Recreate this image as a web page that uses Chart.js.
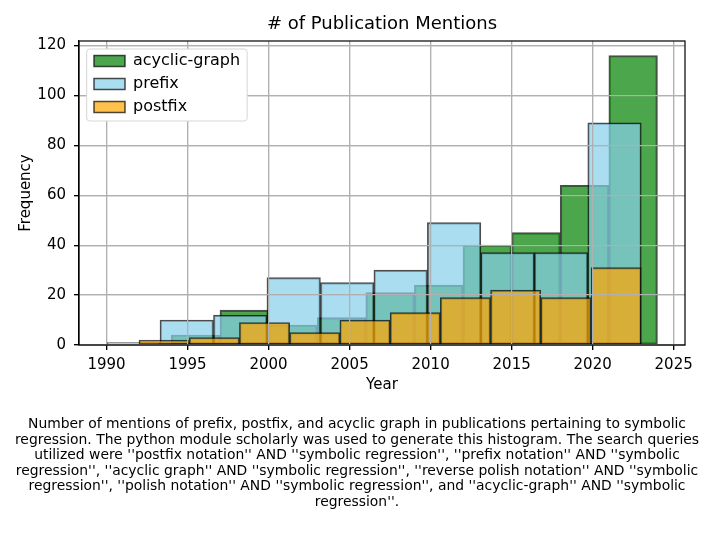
<!DOCTYPE html>
<html>
<head>
<meta charset="utf-8">
<script src="https://cdn.jsdelivr.net/npm/chart.js@4.4.1/dist/chart.umd.min.js"></script>
<style>
  html, body { margin: 0; padding: 0; background: #fff; }
  #wrap { position: relative; width: 714px; height: 536px; }
  #caption {
    position: absolute; left: 0; top: 416px; width: 714px;
    text-align: center; font-family: 'DejaVu Sans'; font-size: 13.9px;
    line-height: 15.6px; color: #000; white-space: nowrap;
  }
</style>
</head>
<body>
<div id="wrap">
  <canvas id="chart" width="714" height="536"></canvas>
  <div id="caption">
    <div>Number of mentions of prefix, postfix, and acyclic graph in publications pertaining to symbolic</div>
    <div>regression. The python module scholarly was used to generate this histogram. The search queries</div>
    <div>utilized were ''postfix notation'' AND ''symbolic regression'', ''prefix notation'' AND ''symbolic</div>
    <div>regression'', ''acyclic graph'' AND ''symbolic regression'', ''reverse polish notation'' AND ''symbolic</div>
    <div>regression'', ''polish notation'' AND ''symbolic regression'', and ''acyclic-graph'' AND ''symbolic</div>
    <div>regression''.</div>
  </div>
</div>
<script>
// Histogram bins (edges) and counts per series
const acyclicEdges = [1994, 1997, 2000, 2003, 2006, 2009, 2012, 2015, 2018, 2021, 2024];
const acyclicCounts = [4, 14, 8, 11, 21, 24, 40, 45, 64, 116];

const prefixEdges = [1990, 1993.3, 1996.6, 1999.9, 2003.2, 2006.5, 2009.8, 2013.1, 2016.4, 2019.7, 2023];
const prefixCounts = [1, 10, 12, 27, 25, 30, 49, 37, 37, 89];

const postfixEdges = [1992, 1995.1, 1998.2, 2001.3, 2004.4, 2007.5, 2010.6, 2013.7, 2016.8, 2019.9, 2023];
const postfixCounts = [2, 3, 9, 5, 10, 13, 19, 22, 19, 31];

const xTicks = [1990, 1995, 2000, 2005, 2010, 2015, 2020, 2025];
const yTicks = [0, 20, 40, 60, 80, 100, 120];

Chart.defaults.font.family = "'DejaVu Sans'";
Chart.defaults.color = '#000';

const binData = (edges, counts) => counts.map((c, i) => ({ x: (edges[i] + edges[i + 1]) / 2, y: c }));

// bar width in pixels = one bin on the x scale
const binWidth = (edges) => (ctx) => {
    const s = ctx.chart.scales.x;
    return s.getPixelForValue(edges[1]) - s.getPixelForValue(edges[0]);
};

const edge = 'rgba(0,0,0,0.7)';

const makeSeries = (label, edges, counts, color, order) => ({
    label: label,
    data: binData(edges, counts),
    backgroundColor: color,
    borderColor: edge,
    borderWidth: 1.5,
    borderSkipped: false,
    grouped: false,
    barThickness: binWidth(edges),
    order: order
});

const LEGEND_PAD = 7;
const LEGEND_FONT = 16;

// grid on top of bars, full frame, matplotlib-style legend box
const overlay = {
    id: 'overlay',
    afterLayout(chart) {
        const lg = chart.legend;
        const w = lg.width, h = lg.height;
        lg.left = chart.chartArea.left + 8;
        lg.top = chart.chartArea.top + 5;
        lg.right = lg.left + w;
        lg.bottom = lg.top + h;
    },
    afterDatasetsDraw(chart) {
        const { ctx, chartArea: a } = chart;
        chart.scales.x.drawGrid(a);
        chart.scales.y.drawGrid(a);

        ctx.save();
        ctx.strokeStyle = '#000';
        ctx.lineWidth = 1.2;
        ctx.strokeRect(a.left, a.top, a.right - a.left, a.bottom - a.top);

        const lg = chart.legend;
        ctx.font = LEGEND_FONT + "px 'DejaVu Sans'";
        const maxText = Math.max(...lg.legendItems.map(it => ctx.measureText(it.text).width));
        const boxX = lg.left + LEGEND_PAD;
        const textX = boxX + 31 + LEGEND_FONT / 2;
        const fx = boxX - 7.3;
        const fy = lg.top + 3;
        const fw = textX + maxText + 7 - fx;
        const fh = 72;
        ctx.beginPath();
        ctx.roundRect(fx, fy, fw, fh, 3);
        ctx.fillStyle = '#fff';
        ctx.fill();
        ctx.strokeStyle = '#d6d6d6';
        ctx.lineWidth = 1;
        ctx.stroke();
        ctx.restore();

        lg.draw();
    }
};

new Chart(document.getElementById('chart'), {
    type: 'bar',
    data: {
        datasets: [
            makeSeries('acyclic-graph', acyclicEdges, acyclicCounts, 'rgba(0,128,0,0.7)', 3),
            makeSeries('prefix', prefixEdges, prefixCounts, 'rgba(135,206,235,0.7)', 2),
            makeSeries('postfix', postfixEdges, postfixCounts, 'rgba(255,165,0,0.7)', 1)
        ]
    },
    options: {
        responsive: false,
        animation: false,
        devicePixelRatio: 1,
        layout: { padding: { left: 0, right: 29, top: 0, bottom: 140 } },
        plugins: {
            tooltip: { enabled: false },
            title: {
                display: true,
                text: '# of Publication Mentions',
                fullSize: false,
                font: { size: 18, weight: 'normal' },
                color: '#000',
                padding: { top: 14, bottom: 5.4 }
            },
            legend: {
                position: 'chartArea',
                align: 'start',
                labels: {
                    boxWidth: 31,
                    boxHeight: 11,
                    padding: LEGEND_PAD,
                    color: '#000',
                    font: { size: LEGEND_FONT },
                    sort: (a, b) => a.datasetIndex - b.datasetIndex
                }
            }
        },
        scales: {
            x: {
                type: 'linear',
                min: 1988.3,
                max: 2025.7,
                offset: false,
                afterBuildTicks: (scale) => { scale.ticks = xTicks.map(v => ({ value: v })); },
                afterFit: (scale) => { scale.height = 51; },
                ticks: {
                    callback: (v) => String(v),
                    font: { size: 15 },
                    color: '#000',
                    padding: 6,
                    maxRotation: 0
                },
                grid: { offset: false, color: '#b0b0b0', lineWidth: 1.2, tickLength: 5, tickColor: '#000', tickWidth: 1.2 },
                border: { color: '#000', width: 1.2 },
                title: { display: true, text: 'Year', font: { size: 15 }, color: '#000', padding: { top: 0, bottom: 2 } }
            },
            y: {
                min: 0,
                max: 121.8,
                afterBuildTicks: (scale) => { scale.ticks = yTicks.map(v => ({ value: v })); },
                afterFit: (scale) => { scale.width = 79; },
                ticks: { font: { size: 15 }, color: '#000', padding: 8 },
                grid: { color: '#b0b0b0', lineWidth: 1.2, tickLength: 5, tickColor: '#000', tickWidth: 1.2 },
                border: { color: '#000', width: 1.2 },
                title: { display: true, text: 'Frequency', font: { size: 15 }, color: '#000', padding: { top: 17, bottom: 0 } }
            }
        }
    },
    plugins: [overlay]
});
</script>
</body>
</html>
